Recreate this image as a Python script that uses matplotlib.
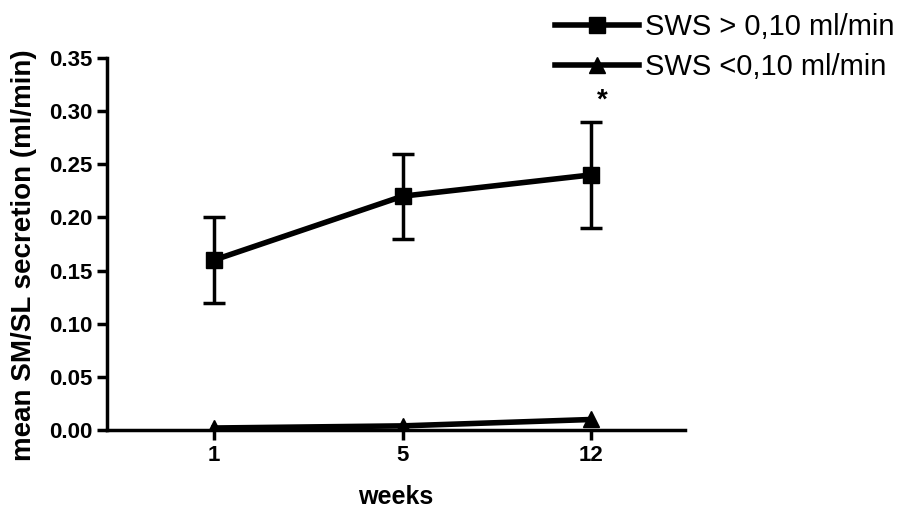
import matplotlib
matplotlib.use("Agg")
import matplotlib.pyplot as plt
import numpy as np

plt.rcParams['font.family'] = ['Liberation Sans', 'DejaVu Sans']

weeks = ["1", "5", "12"]
high_mean = [0.16, 0.22, 0.24]
high_err = [0.04, 0.04, 0.05]
low_mean = [0.002, 0.004, 0.01]
low_err = [0.002, 0.003, 0.004]
yticks = [0.00, 0.05, 0.10, 0.15, 0.20, 0.25, 0.30, 0.35]

fig = plt.figure(figsize=(9.21, 5.22), dpi=100)
ax = fig.add_axes([0.116, 0.176, 0.628, 0.713])
x = np.arange(len(weeks))

ax.errorbar(x, high_mean, yerr=high_err, color='black', lw=0, marker='none',
            capsize=8, capthick=2.5, elinewidth=2.5)
ax.errorbar(x, low_mean, yerr=low_err, color='black', lw=0, marker='none',
            capsize=0, elinewidth=2.5)
ax.plot(x, high_mean, color='black', lw=4, marker='s', ms=12, label='SWS > 0,10 ml/min')
ax.plot(x, low_mean, color='black', lw=4, marker='^', ms=11, label='SWS <0,10 ml/min')

ax.text(2.06, 0.31, '*', fontsize=20, fontweight='bold', ha='center', va='center')

ax.set_xlim(-0.57, 2.5)
ax.set_ylim(0, 0.35)
ax.set_xticks(x)
ax.set_xticklabels(weeks)
ax.set_yticks(yticks)
ax.set_yticklabels([f"{v:.2f}" for v in yticks])
for s in ['top', 'right']:
    ax.spines[s].set_visible(False)
for s in ['left', 'bottom']:
    ax.spines[s].set_linewidth(2.5)
ax.tick_params(axis='both', width=2.5, length=7, labelsize=16)
for lab in ax.get_xticklabels() + ax.get_yticklabels():
    lab.set_fontweight('bold')
ax.set_xlabel('weeks', fontsize=18, fontweight='bold', labelpad=14)
ax.set_ylabel('mean SM/SL secretion (ml/min)', fontsize=20, fontweight='bold')
ax.yaxis.set_label_coords(-0.12, 0.47)

leg = fig.legend(loc='upper right', bbox_to_anchor=(1.0, 1.025), frameon=False,
                 fontsize=21, handlelength=2.9, handletextpad=0.2, labelspacing=0.4)

fig.savefig('out.png', dpi=100)
